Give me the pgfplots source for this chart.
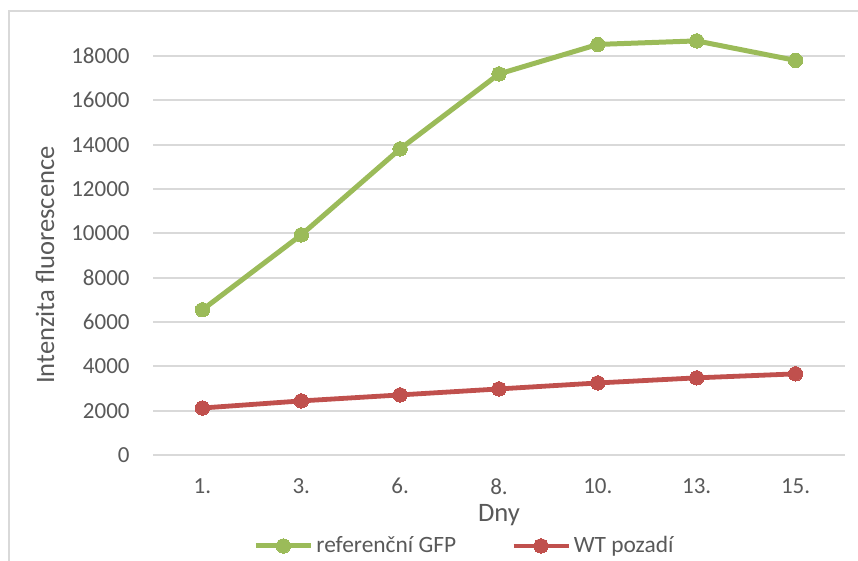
\documentclass[border=0pt]{standalone}
\usepackage{pgfplots}
\pgfplotsset{compat=1.18}
\usepackage{fontspec}
\setmainfont{Carlito}

\definecolor{gfpgreen}{RGB}{155,187,89}
\definecolor{wtred}{RGB}{192,80,77}
\definecolor{gridgray}{RGB}{217,217,217}
\definecolor{txtgray}{RGB}{89,89,89}

\begin{document}
\begin{tikzpicture}
\useasboundingbox (0,0) rectangle (429pt,-280.5pt);
% chart frame
\draw[gridgray, line width=0.8pt] (4.5pt,-281pt) -- (4.5pt,-5.5pt) -- (430pt,-5.5pt);
\begin{axis}[
  at={(76.5pt,-227.5pt)}, anchor=south west,
  scale only axis, width=346pt, height=210.6pt,
  xmin=-0.5, xmax=6.5, ymin=0, ymax=19000,
  xtick={0,...,6}, xticklabels={1.,3.,6.,8.,10.,13.,15.},
  ytick={0,2000,...,18000},
  scaled y ticks=false,
  yticklabel={\pgfmathprintnumber[fixed, precision=0, 1000 sep={}]{\tick}},
  ymajorgrids, grid style={gridgray, line width=0.9pt},
  axis line style={draw=none},
  major tick length=0pt,
  tick label style={font=\fontsize{11.5}{13}\selectfont, text=txtgray, inner sep=0pt},
  yticklabel style={xshift=-11.5pt},
  xticklabel style={yshift=-11.5pt},
  /pgf/number format/assume math mode=true,
  xlabel={Dny}, ylabel={Intenzita fluorescence},
  label style={font=\fontsize{13.3}{15}\selectfont, text=txtgray},
  xlabel style={at={(axis description cs:0.5,0)}, anchor=center, yshift=-30pt},
  ylabel style={at={(axis description cs:-0.156,0.451)}, anchor=center},
  legend style={at={(axis description cs:0.1445,-0.216)}, anchor=west, draw=none, fill=none,
    inner sep=0pt, font=\fontsize{11.7}{13}\selectfont, text=txtgray,
    nodes={inner xsep=1.5pt},
    legend columns=2, /tikz/every even column/.append style={column sep=26pt}},
  legend image code/.code={\draw[#1, mark repeat=2, mark phase=2] plot coordinates {(0pt,0pt) (13.75pt,0pt) (27.5pt,0pt)};},
]
\addplot[gfpgreen, line width=2.5pt, mark=*, mark size=3.6pt, mark options={fill=gfpgreen, draw=gfpgreen, line width=0pt}]
  coordinates {(0,6550) (1,9930) (2,13810) (3,17190) (4,18520) (5,18680) (6,17800)};
\addlegendentry{referenční GFP}
\addplot[wtred, line width=2.4pt, mark=*, mark size=3.6pt, mark options={fill=wtred, draw=wtred, line width=0pt}]
  coordinates {(0,2120) (1,2440) (2,2710) (3,2980) (4,3250) (5,3480) (6,3660)};
\addlegendentry{WT pozadí}
\end{axis}
\end{tikzpicture}
\end{document}
